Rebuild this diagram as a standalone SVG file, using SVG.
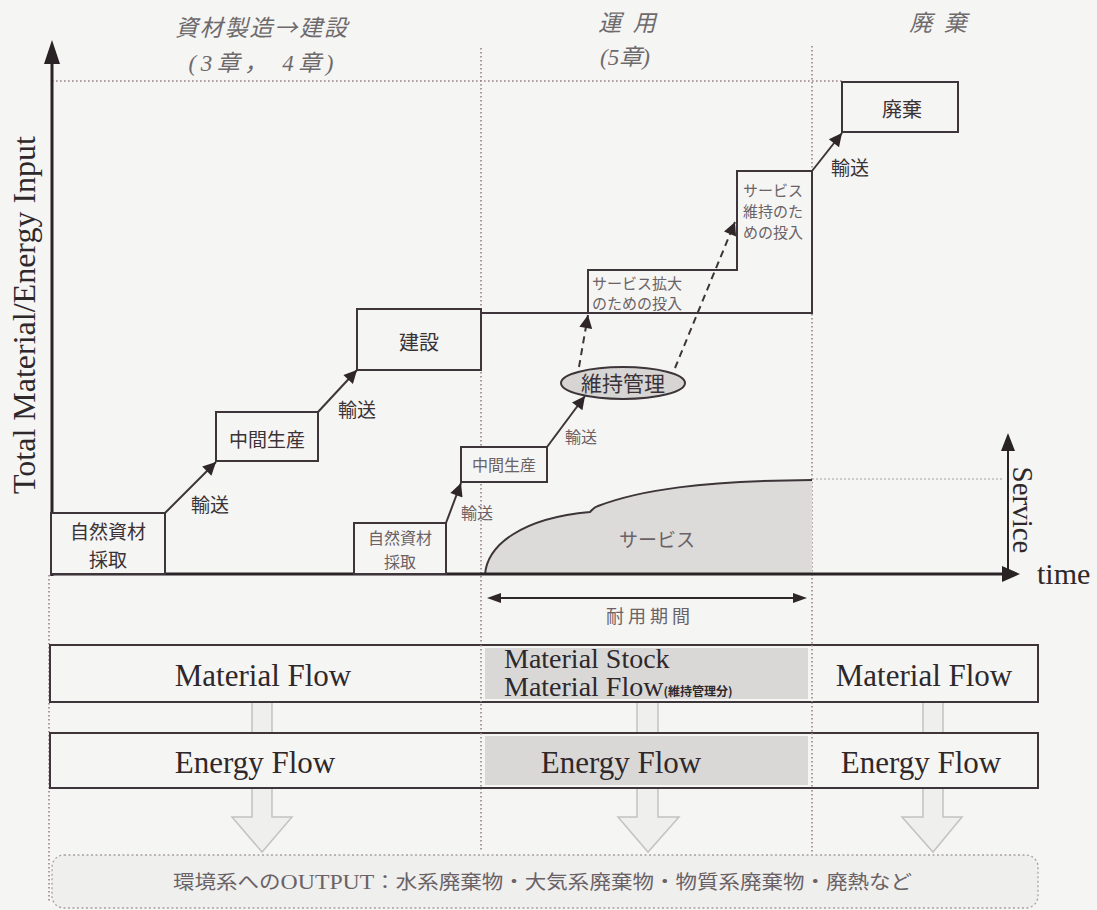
<svg xmlns="http://www.w3.org/2000/svg" width="1097" height="910" viewBox="0 0 1097 910">
<defs>
<style>
.bg{fill:#f5f5f3}
.ln{stroke:#3d3539;stroke-width:2;fill:none}
.box{stroke:#3d3539;stroke-width:2;fill:#f5f5f3}
.axis{stroke:#2a2326;stroke-width:3;fill:none}
.dot{stroke:#9a8290;stroke-width:1.6;stroke-dasharray:1.6 2.4;fill:none}
.dotg{stroke:#a8a0a4;stroke-width:1.2;stroke-dasharray:2 2;fill:none}
.dash{stroke:#3d3539;stroke-width:2;stroke-dasharray:7 5;fill:none}
.jp{font-family:"Noto Sans CJK JP","Noto Sans",sans-serif;fill:#3a3236}
.jpg{font-family:"Noto Sans CJK JP","Noto Sans",sans-serif;fill:#6a6266}
.hd{font-family:"Liberation Serif","Noto Sans CJK JP",serif;font-style:italic;fill:#6e6a6c;font-size:23px}
.cjk{font-family:"Noto Sans CJK JP",sans-serif}
.en{font-family:"Liberation Serif",serif;fill:#2e282b}
.hollow{stroke:#c4c2c3;stroke-width:1.5;fill:#efefed}
.grayfill{fill:#d9d8d7}
</style>
<marker id="ah" viewBox="0 0 10 10" refX="10" refY="5" markerWidth="17" markerHeight="13" markerUnits="userSpaceOnUse" orient="auto"><path d="M0,0 L10,5 L0,10 z" fill="#2e2629"/></marker>
</defs>
<rect class="bg" x="0" y="0" width="1097" height="910"/>

<!-- headers -->
<g id="headers">
<text class="hd" x="261" y="36" text-anchor="middle" textLength="172">資材製造<tspan class="cjk">→</tspan>建設</text>
<text class="hd" x="261" y="71" text-anchor="middle" textLength="145">(3章， 4章)</text>
<text class="hd" x="627" y="31" text-anchor="middle" xml:space="preserve">運  用</text>
<text class="hd" x="625" y="65" text-anchor="middle">(5章)</text>
<text class="hd" x="938" y="31" text-anchor="middle" xml:space="preserve">廃  棄</text>
</g>

<!-- grid / dotted guides -->
<g id="guides">
<line class="dot" x1="52" y1="81" x2="842" y2="81"/>
<line class="dot" x1="481" y1="48" x2="481" y2="852"/>
<line class="dot" x1="812" y1="46" x2="812" y2="852"/>
<line class="dot" x1="49" y1="575" x2="49" y2="902"/>
<line class="dotg" x1="812" y1="479" x2="1004" y2="479"/>
</g>

<!-- service area -->
<g id="service">
<path d="M485,575 C487,545 522,518 590,512 C592,510 594,507 598,506 C640,490 700,481 812,480 L812,575 Z" fill="#dcdbda" stroke="none"/>
<path d="M485,575 C487,545 522,518 590,512 C592,510 594,507 598,506 C640,490 700,481 812,480" class="ln"/>
<text class="jpg" x="657" y="547" font-size="19" text-anchor="middle">サービス</text>
</g>

<!-- axes -->
<g id="axes">
<line class="axis" x1="52" y1="576" x2="52" y2="58"/>
<polygon points="52,40 44,64 60,64" fill="#2a2326"/>
<line class="axis" x1="50" y1="574" x2="1006" y2="574"/>
<polygon points="1020,574 1002,566 1002,582" fill="#2a2326"/>
<line x1="1008" y1="574" x2="1008" y2="446" stroke="#2a2326" stroke-width="2"/>
<polygon points="1008,433 1001,451 1015,451" fill="#2a2326"/>
<text class="en" font-size="32" transform="translate(35,315) rotate(-90)" text-anchor="middle">Total Material/Energy Input</text>
<text class="en" font-size="29" transform="translate(1013,510) rotate(90)" text-anchor="middle">Service</text>
<text class="en" x="1037" y="584" font-size="30">time</text>
</g>

<!-- construction phase nodes -->
<g id="n-shizen1">
<rect class="box" x="51" y="513" width="114" height="61"/>
<text class="jp" x="108" y="539" font-size="19" text-anchor="middle">自然資材</text>
<text class="jp" x="108" y="567" font-size="19" text-anchor="middle">採取</text>
</g>
<g id="n-chukan1">
<rect class="box" x="216" y="412" width="102" height="49"/>
<text class="jp" x="267" y="447" font-size="19" text-anchor="middle">中間生産</text>
</g>
<g id="n-kensetsu">
<rect class="box" x="357" y="309" width="124" height="61"/>
<text class="jp" x="419" y="350" font-size="20" text-anchor="middle">建設</text>
</g>

<!-- operation phase nodes -->
<g id="n-shizen2">
<rect class="box" x="354" y="523" width="92" height="51"/>
<text class="jpg" x="400" y="544" font-size="16" text-anchor="middle">自然資材</text>
<text class="jpg" x="400" y="568" font-size="16" text-anchor="middle">採取</text>
</g>
<g id="n-chukan2">
<rect class="box" x="461" y="447" width="86" height="35"/>
<text class="jpg" x="504" y="471" font-size="16" text-anchor="middle">中間生産</text>
</g>
<g id="n-ijikanri">
<ellipse cx="623" cy="383" rx="62" ry="16" fill="#d6d5d4" stroke="#3d3539" stroke-width="2"/>
<text class="jp" x="623" y="391" font-size="21" text-anchor="middle">維持管理</text>
</g>
<g id="n-service-steps">
<path class="ln" d="M481,313 L588,313 L588,270 L737,270 L737,171 L812,171 L812,313 L588,313"/>
<text class="jpg" x="592" y="289" font-size="15">サービス拡大</text>
<text class="jpg" x="592" y="309" font-size="15">のための投入</text>
<text class="jpg" x="743" y="196" font-size="15">サービス</text>
<text class="jpg" x="743" y="217" font-size="15">維持のた</text>
<text class="jpg" x="743" y="238" font-size="15">めの投入</text>
</g>

<!-- disposal -->
<g id="n-haiki">
<rect class="box" x="842" y="82" width="116" height="50"/>
<text class="jp" x="902" y="117" font-size="20" text-anchor="middle">廃棄</text>
</g>

<!-- connectors -->
<g id="connectors">
<line class="ln" x1="165" y1="513" x2="216" y2="462" marker-end="url(#ah)"/>
<line class="ln" x1="318" y1="412" x2="357" y2="370" marker-end="url(#ah)"/>
<line class="ln" x1="446" y1="523" x2="461" y2="483" marker-end="url(#ah)"/>
<line class="ln" x1="547" y1="447" x2="585" y2="396" marker-end="url(#ah)"/>
<line class="dash" x1="579" y1="367" x2="588" y2="315" marker-end="url(#ah)"/>
<line class="dash" x1="675" y1="368" x2="735" y2="222" marker-end="url(#ah)"/>
<line class="ln" x1="812" y1="171" x2="842" y2="133" marker-end="url(#ah)"/>
<text class="jp" x="210" y="512" font-size="19" text-anchor="middle">輸送</text>
<text class="jp" x="357" y="417" font-size="19" text-anchor="middle">輸送</text>
<text class="jpg" x="477" y="519" font-size="16" text-anchor="middle">輸送</text>
<text class="jpg" x="581" y="443" font-size="16" text-anchor="middle">輸送</text>
<text class="jp" x="850" y="175" font-size="19" text-anchor="middle">輸送</text>
</g>

<!-- service life span -->
<g id="taiyou">
<line x1="495" y1="598" x2="800" y2="598" stroke="#2e2629" stroke-width="1.8"/>
<polygon points="487,598 501,593 501,603" fill="#2e2629"/>
<polygon points="807,598 793,593 793,603" fill="#2e2629"/>
<text class="jpg" x="648" y="623" font-size="18" text-anchor="middle" textLength="84">耐用期間</text>
</g>

<!-- hollow output arrows -->
<g id="out-arrows">
<polygon class="hollow" points="252,702 272,702 272,817 292,817 262,852 232,817 252,817"/>
<polygon class="hollow" points="637,702 658,702 658,817 679,817 648,852 618,817 637,817"/>
<polygon class="hollow" points="923,702 943,702 943,817 962,817 933,852 902,817 923,817"/>
</g>

<!-- flow rows -->
<g id="row-material">
<rect class="box" x="50" y="645" width="988" height="57"/>
<rect class="grayfill" x="485" y="648" width="323" height="51"/>
<line class="dot" x1="481" y1="645" x2="481" y2="702"/>
<line class="dot" x1="812" y1="645" x2="812" y2="702"/>
<text class="en" x="263" y="686" font-size="31" text-anchor="middle">Material Flow</text>
<text class="en" x="504" y="668" font-size="28">Material Stock</text>
<text class="en" x="504" y="696" font-size="28">Material Flow<tspan font-size="12" font-family="Noto Sans CJK JP,sans-serif" font-weight="bold">(維持管理分)</tspan></text>
<text class="en" x="924" y="686" font-size="31" text-anchor="middle">Material Flow</text>
</g>
<g id="row-energy">
<rect class="box" x="50" y="733" width="988" height="55"/>
<rect class="grayfill" x="485" y="736" width="323" height="49"/>
<line class="dot" x1="481" y1="733" x2="481" y2="788"/>
<line class="dot" x1="812" y1="733" x2="812" y2="788"/>
<text class="en" x="255" y="773" font-size="31" text-anchor="middle">Energy Flow</text>
<text class="en" x="621" y="773" font-size="31" text-anchor="middle">Energy Flow</text>
<text class="en" x="921" y="773" font-size="31" text-anchor="middle">Energy Flow</text>
</g>

<!-- output to environment -->
<g id="n-output">
<rect x="52" y="855" width="986" height="53" rx="12" fill="#efefed" stroke="#a8a0a4" stroke-width="1.3" stroke-dasharray="2 2.5"/>
<text class="jpg" x="173" y="889" font-size="19" textLength="739" lengthAdjust="spacingAndGlyphs">環境系への<tspan font-family="Liberation Serif,serif" font-size="21">OUTPUT</tspan>：水系廃棄物・大気系廃棄物・物質系廃棄物・廃熱など</text>
</g>
</svg>
